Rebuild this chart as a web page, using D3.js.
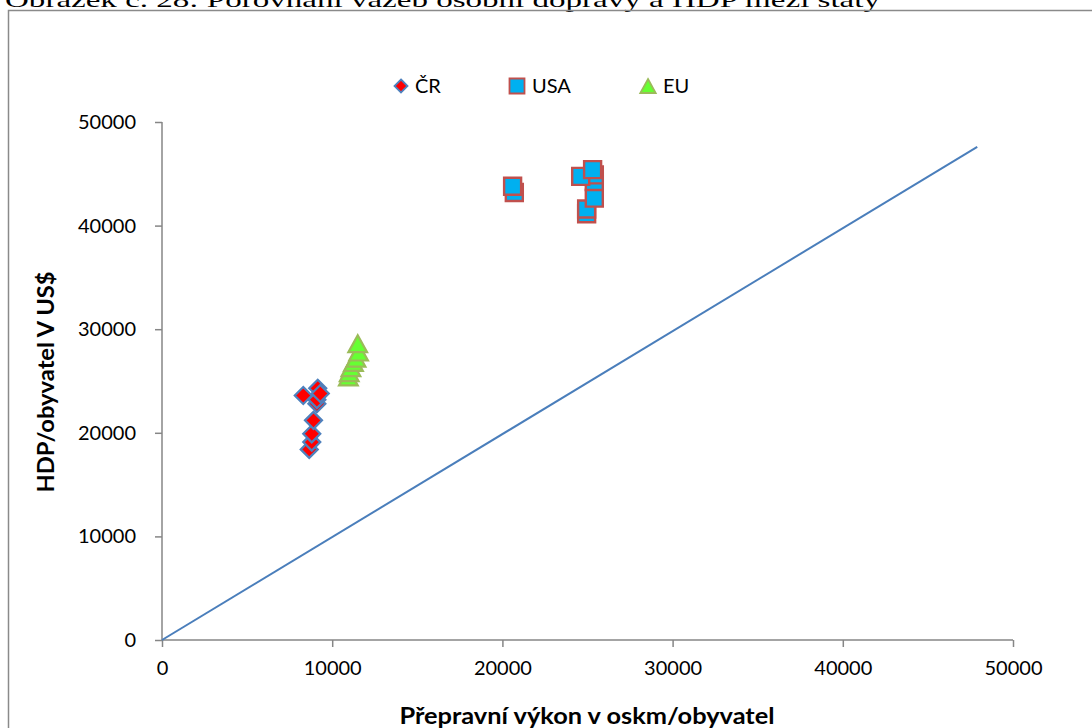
<!DOCTYPE html>
<html>
<head>
<meta charset="utf-8">
<script src="https://cdn.jsdelivr.net/npm/d3@7"></script>
<style>
  html, body { margin: 0; padding: 0; background: #fff; }
  svg { display: block; }
</style>
</head>
<body>
<svg id="chart" width="1092" height="728"></svg>
<script>
// Passenger transport performance (oskm per inhabitant) vs. GDP per inhabitant (US$)
const crX  = [8650, 8800, 8800, 8900, 9100, 9100, 8300, 9150, 9300];
const crY  = [18400, 19100, 19900, 21200, 22800, 23200, 23600, 24300, 23800];

const usaX = [20700, 20600, 24950, 24950, 25400, 25400, 25400, 24600, 25300];
const usaY = [43200, 43800, 41150, 41600, 42650, 44250, 44900, 44750, 45400];

const euX  = [10950, 11000, 11100, 11250, 11400, 11550, 11500];
const euY  = [25400, 25800, 26300, 26800, 27200, 27800, 28600];

// Reference line
const lineX = [0, 47900];
const lineY = [0, 47600];

const seriesNames = ["ČR", "USA", "EU"];
const xTicks = [0, 10000, 20000, 30000, 40000, 50000];
const yTicks = [0, 10000, 20000, 30000, 40000, 50000];

const titleText = "Obrázek č. 28: Porovnání vazeb osobní dopravy a HDP mezi státy";
const xTitle = "Přepravní výkon v oskm/obyvatel";
const yTitle = "HDP/obyvatel V US$";

const svg = d3.select("#chart");
const font = "Lato, 'Open Sans', sans-serif";

const x = d3.scaleLinear().domain([0, 50000]).range([162, 1013]);
const y = d3.scaleLinear().domain([0, 50000]).range([640, 122]);

// caption above the frame (runs off the top edge)
svg.append("text")
  .attr("x", 5).attr("y", 7)
  .attr("font-family", "'Liberation Serif', 'Times New Roman', serif")
  .attr("font-size", 21)
  .attr("textLength", 875)
  .attr("lengthAdjust", "spacingAndGlyphs")
  .attr("fill", "#000")
  .text(titleText);

// chart frame
svg.append("rect")
  .attr("x", 8.5).attr("y", 10.5)
  .attr("width", 1200).attr("height", 800)
  .attr("fill", "none")
  .attr("stroke", "#8a8a8a")
  .attr("stroke-width", 1.5);

const axisColor = "#868686";

// x axis
const xAxis = svg.append("g")
  .attr("transform", `translate(0,${y(0)})`)
  .call(d3.axisBottom(x).tickValues(xTicks).tickFormat(d3.format("d")).tickSize(7).tickPadding(14));
xAxis.select(".domain").attr("stroke", axisColor).attr("stroke-width", 1.5)
  .attr("d", `M${x(0)},0H${x(50000)}`);
xAxis.selectAll(".tick line").attr("stroke", axisColor).attr("stroke-width", 1.5);
xAxis.selectAll(".tick text")
  .attr("font-family", font).attr("font-size", 20).attr("fill", "#000");

// y axis
const yAxis = svg.append("g")
  .attr("transform", `translate(${x(0)},0)`)
  .call(d3.axisLeft(y).tickValues(yTicks).tickFormat(d3.format("d")).tickSize(7).tickPadding(19));
yAxis.select(".domain").attr("stroke", axisColor).attr("stroke-width", 1.5)
  .attr("d", `M0,${y(0)}V${y(50000)}`);
yAxis.selectAll(".tick line").attr("stroke", axisColor).attr("stroke-width", 1.5);
yAxis.selectAll(".tick text")
  .attr("font-family", font).attr("font-size", 20).attr("fill", "#000");

// axis titles
svg.append("text")
  .attr("x", 587).attr("y", 724)
  .attr("text-anchor", "middle")
  .attr("font-family", font).attr("font-size", 23).attr("font-weight", "bold")
  .attr("textLength", 375).attr("lengthAdjust", "spacingAndGlyphs")
  .text(xTitle);

svg.append("text")
  .attr("transform", `translate(54,382) rotate(-90)`)
  .attr("text-anchor", "middle")
  .attr("font-family", font).attr("font-size", 23).attr("font-weight", "bold")
  .attr("textLength", 221).attr("lengthAdjust", "spacingAndGlyphs")
  .text(yTitle);

// reference line
svg.append("path")
  .datum(d3.zip(lineX, lineY))
  .attr("d", d3.line().x(d => x(d[0])).y(d => y(d[1])))
  .attr("fill", "none")
  .attr("stroke", "#4A7EBB")
  .attr("stroke-width", 2);

// marker shapes
function diamond(cx, cy, r) {
  return `M${cx},${cy - r}L${cx + r},${cy}L${cx},${cy + r}L${cx - r},${cy}Z`;
}
function square(cx, cy, r) {
  return `M${cx - r},${cy - r}H${cx + r}V${cy + r}H${cx - r}Z`;
}
function triangle(cx, cy, r) {
  return `M${cx},${cy - r}L${cx + r * 1.1},${cy + r}L${cx - r * 1.1},${cy + r}Z`;
}

const styles = {
  "ČR":  { shape: diamond,  r: 8.5, fill: "#FF0000", stroke: "#4F81BD", sw: 2.2 },
  "USA": { shape: square,   r: 8.5, fill: "#00B0F0", stroke: "#C0504D", sw: 2.4 },
  "EU":  { shape: triangle, r: 8.5, fill: "#66FF33", stroke: "#9BBB59", sw: 2.2 }
};

const seriesData = {
  "ČR":  d3.zip(crX, crY),
  "USA": d3.zip(usaX, usaY),
  "EU":  d3.zip(euX, euY)
};

seriesNames.forEach(name => {
  const st = styles[name];
  svg.append("g").selectAll("path")
    .data(seriesData[name])
    .join("path")
    .attr("d", d => st.shape(x(d[0]), y(d[1]), st.r))
    .attr("fill", st.fill)
    .attr("stroke", st.stroke)
    .attr("stroke-width", st.sw)
    .attr("stroke-linejoin", "miter");
});

// legend
const legendPos = { "ČR": 401, "USA": 517, "EU": 648 };
const legendR = { "ČR": 6.5, "USA": 7.5, "EU": 7 };
seriesNames.forEach(name => {
  const st = styles[name];
  const cx = legendPos[name];
  svg.append("path")
    .attr("d", st.shape(cx, 86, legendR[name]))
    .attr("fill", st.fill)
    .attr("stroke", st.stroke)
    .attr("stroke-width", 1.8);
  svg.append("text")
    .attr("x", cx + (name === "ČR" ? 14 : 15)).attr("y", 93)
    .attr("font-family", font).attr("font-size", 20)
    .attr("fill", "#000")
    .text(name);
});
</script>
</body>
</html>
